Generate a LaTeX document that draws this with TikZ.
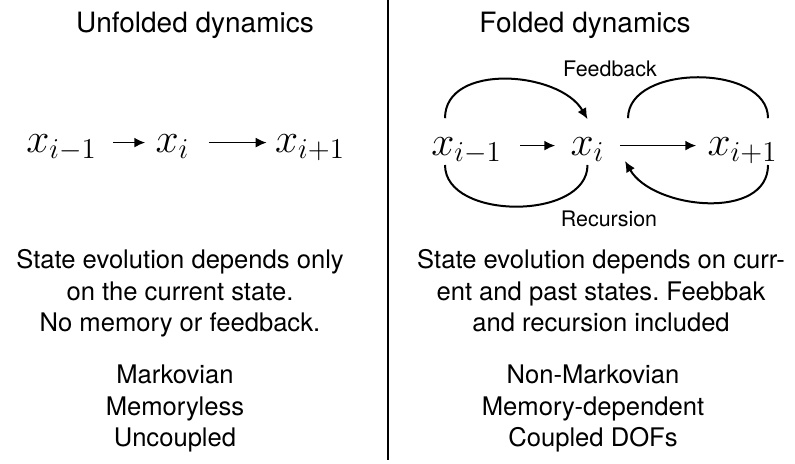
\documentclass[tikz,border=0pt]{standalone}
\usepackage{amsmath}
\usepackage{fontspec}
\setmainfont{TeX Gyre Heros}
\usetikzlibrary{arrows.meta, positioning}
\frenchspacing

\begin{document}
\begin{tikzpicture}[
        x=0.5pt, y=0.5pt,
        title/.style={font=\fontsize{14}{17}\selectfont, anchor=base, inner sep=0pt},
        body/.style={font=\fontsize{12.8}{15.8}\selectfont, align=center, anchor=base, inner sep=0pt},
        note/.style={font=\fontsize{10.7}{13}\selectfont, anchor=base, inner sep=0pt},
        state/.style={font=\fontsize{20}{24}\selectfont, inner sep=0pt, text height=10pt, text depth=0pt, anchor=south},
        arrow/.style={-{Latex[length=5.5pt, width=5pt]}, line width=0.9pt},
        arc/.style={line width=1pt}
    ]
        \useasboundingbox (0,0) rectangle (795,464);
        % divider
        \draw[line width=1pt] (388,464) -- (388,4);

        % unfolded side
        \node[title] (unftitle) at (195,431) {Unfolded dynamics};
        \node[state] (um) at (61.5,311) {$x_{i-1}$};
        \node[state] (ui) at (172.5,311) {$x_i$};
        \node[state] (up) at (310,311) {$x_{i+1}$};
        \draw[arrow, shorten <=8pt, shorten >=5pt] (um.east) -- (ui.west);
        \draw[arrow, shorten <=9.5pt, shorten >=4pt] (ui.east) -- (up.west);
        \node[body] (unfdesc) at (180,132) {State evolution depends only\\ on the current state.\\ No memory or feedback.};
        \node[body] (unfprop) at (175,17) {Markovian\\ Memoryless\\ Uncoupled};

        % folded side
        \node[title] (foltitle) at (585,431) {Folded dynamics};
        \node[state] (fm) at (466.5,308) {$x_{i-1}$};
        \node[state] (fi) at (587.5,308) {$x_i$};
        \node[state] (fp) at (742.5,308) {$x_{i+1}$};
        \draw[arrow, shorten <=9pt, shorten >=7.5pt] (fm.east) -- (fi.west);
        \draw[arrow, shorten <=7.5pt, shorten >=5.5pt] (fi.east) -- (fp.west);
        \draw[arc, -{Latex[length=5.5pt, width=5pt]}] ([xshift=-10.75pt, yshift=8.5pt]fm.north) to[out=90, in=120] ([yshift=8pt]fi.north);
        \draw[arc] ([xshift=-10.75pt, yshift=-4.5pt]fm.south) to[out=-90, in=-90] ([yshift=-4.5pt]fi.south);
        \draw[arc] ([xshift=20.25pt, yshift=8.5pt]fi.north) to[out=90, in=90] ([xshift=12.75pt, yshift=8.5pt]fp.north);
        \draw[arc, -{Latex[length=5.5pt, width=5pt]}] ([xshift=12.75pt, yshift=-4.5pt]fp.south) to[out=-90, in=-60] ([xshift=18.75pt, yshift=-2.5pt]fi.south);
        \node[note] (feedback) at (610,387) {Feedback};
        \node[note] (recursion) at (609,237) {Recursion};
        \node[body] (foldesc) at (601,132) {State evolution depends on curr-\\ ent and past states. Feebbak\\ and recursion included};
        \node[body] (folprop) at (593,17) {Non-Markovian\\ Memory-dependent\\ Coupled DOFs};
    \end{tikzpicture}
\end{document}
